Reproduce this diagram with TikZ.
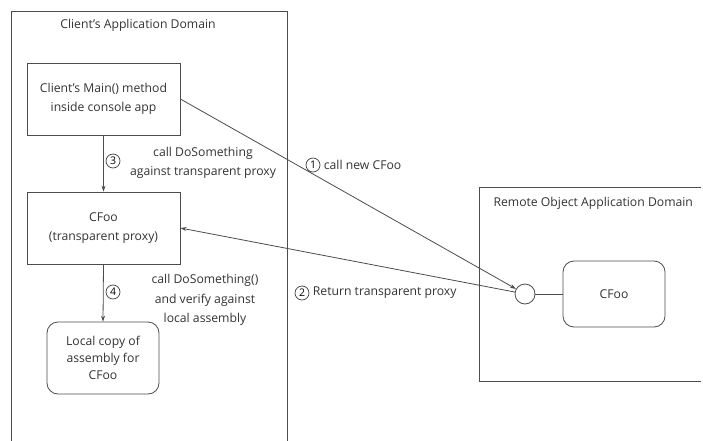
\documentclass[tikz,border=0pt]{standalone}
\usepackage{fontspec}
\setmainfont{Open Sans}
\usetikzlibrary{arrows.meta}
\begin{document}
\begin{tikzpicture}[x=1pt,y=-1pt,
  font=\fontsize{12.2}{19.5}\selectfont,
  line/.style={draw=black!70,line width=0.8pt},
  box/.style={line,rectangle,inner sep=0pt,align=center,text=black!80},
  rbox/.style={box,rounded corners=11pt},
  num/.style={circle,draw=black!75,line width=0.7pt,inner sep=0.5pt,minimum size=14pt,font=\fontsize{10.5}{11}\selectfont},
  lbl/.style={align=center,text=black!80},
  arr/.style={line,-{Stealth[length=6pt,width=4pt]}}]
\useasboundingbox (0,0) rectangle (703,441);
% client domain (open at the bottom)
\draw[line] (11,441) -- (11,11) -- (287,11) -- (287,441);
\node[lbl] (ctitle) at (138,25) {Client's Application Domain};
% remote domain
\draw[line] (701,187) -- (479,187) -- (479,381) -- (701,381);
\node[lbl,anchor=west] (rtitle) at (490,203) {Remote Object Application Domain};
% client nodes
\node[box,minimum width=153pt,minimum height=72pt] (main) at (103.5,99) {Client's Main() method\\inside console app};
\node[box,minimum width=153pt,minimum height=72pt] (proxy) at (103.5,228) {CFoo\\(transparent proxy)};
\node[rbox,minimum width=112pt,minimum height=72pt,font=\fontsize{12.2}{17}\selectfont] (local) at (103,358) {Local copy of\\assembly for\\CFoo};
% remote nodes
\node[circle,line,minimum size=20pt,inner sep=0pt] (port) at (525,294) {};
\node[rbox,minimum width=102pt,minimum height=66pt] (cfoo) at (614,294) {CFoo};
\draw[line] (port) -- (cfoo);
% calls
\draw[arr] (main.south) -- (proxy.north);
\draw[arr] (proxy.south) -- (local.north);
\draw[arr] (main.east) -- (port);
\draw[arr] (port) -- (proxy.east);
% labels
\node[num] (n3) at (113,161) {3};
\node[lbl] (t3) at (203,163) {call DoSomething\\against transparent proxy};
\node[num] (n4) at (113,292) {4};
\node[lbl] (t4) at (205,300) {call DoSomething()\\and verify against\\local assembly};
\node[num] (n1) at (313,165) {1};
\node[lbl,anchor=west] (t1) at (n1.east) {call new CFoo};
\node[num] (n2) at (302,293) {2};
\node[lbl,anchor=west] (t2) at (n2.east) {Return transparent proxy};
\end{tikzpicture}
\end{document}
